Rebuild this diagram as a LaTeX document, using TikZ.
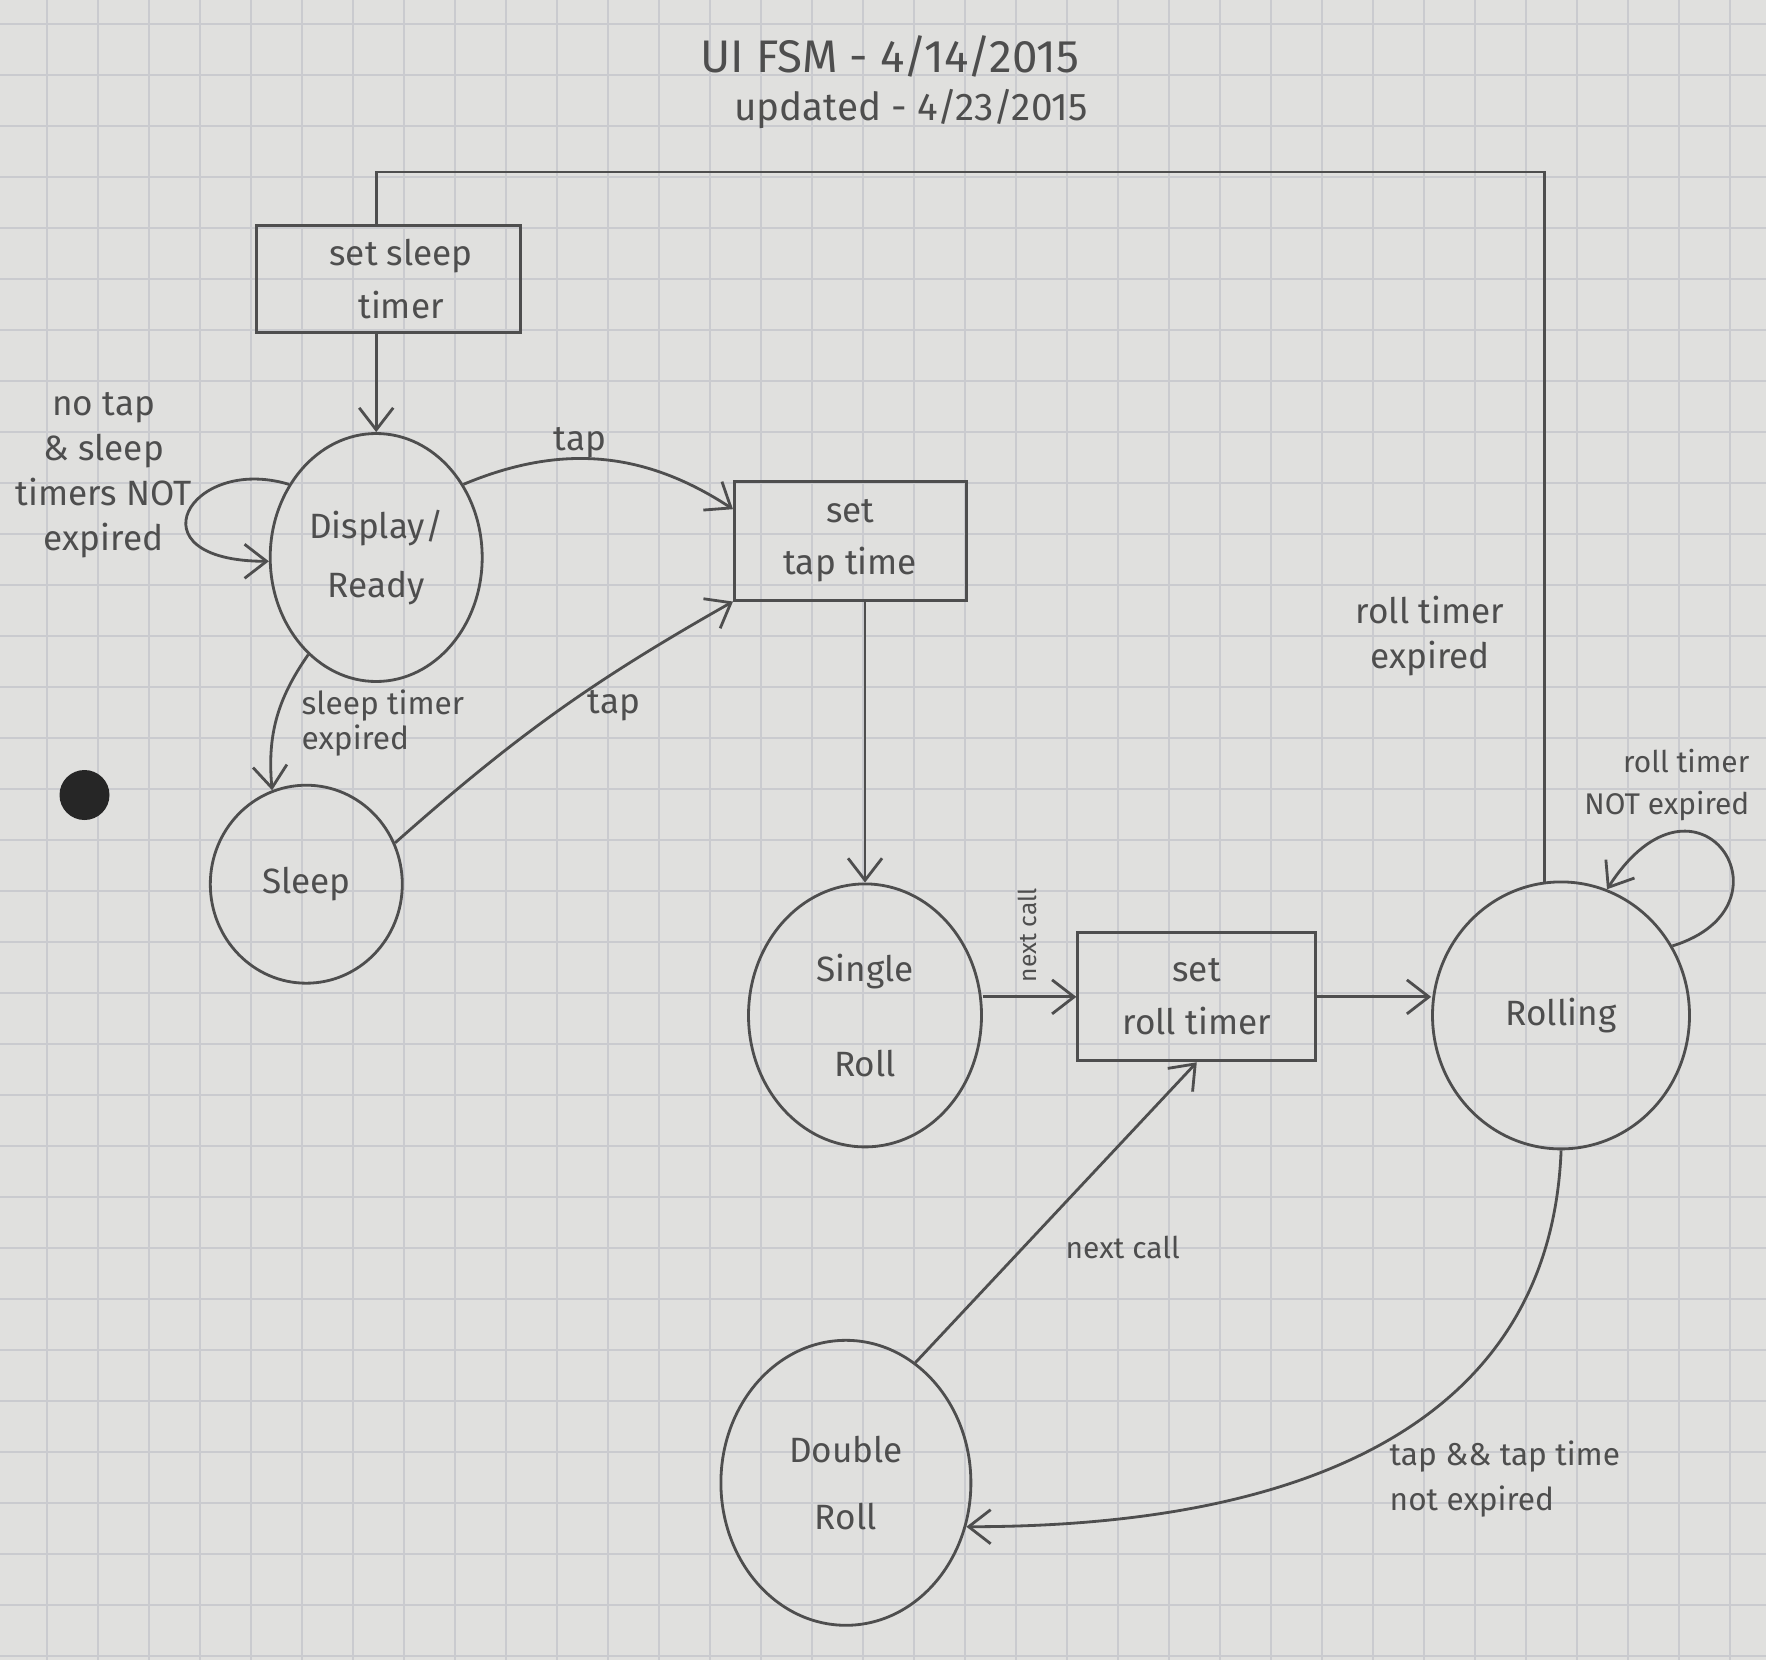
\documentclass[tikz,border=0pt]{standalone}
\usepackage{fontspec}
\setmainfont{Fira Sans}
\usetikzlibrary{shapes.geometric,arrows.meta}
\definecolor{paper}{RGB}{224,224,222}
\definecolor{gridline}{RGB}{202,203,207}
\definecolor{pencil}{RGB}{78,78,78}

\begin{document}
\begin{tikzpicture}[scale=0.1, >={Straight Barb[length=2.2mm,width=3.4mm]}]
\tikzstyle{every node}+=[inner sep=0pt, text=pencil]
\tikzstyle{state}=[draw=pencil, line width=0.8pt, ellipse, align=center, font=\fontsize{10}{17}\selectfont]
\tikzstyle{action}=[draw=pencil, line width=0.8pt, rectangle, align=center, font=\fontsize{10}{15}\selectfont]
\tikzstyle{wire}=[draw=pencil, line width=0.8pt]
\useasboundingbox (0,0) rectangle (176.6,-166);
\fill [paper] (0,0) rectangle (176.6,-166);
\foreach \x in {4.7,9.8,...,176.6} \draw [gridline, line width=0.6pt] (\x,0) -- (\x,-166);
\foreach \y in {-2.4,-7.5,...,-166} \draw [gridline, line width=0.6pt] (0,\y) -- (176.6,\y);
\fill [black!85] (8.45,-79.5) circle (2.5);
\node (title) at (88.98,-5.63) {\fontsize{13}{15}\selectfont UI FSM - 4/14/2015};
\node (updated) at (91.1,-10.9) {\fontsize{11}{13}\selectfont updated - 4/23/2015};
\node [action, minimum width=2.635cm, minimum height=1.07cm] (sleeptimer) at (38.86,-27.88) {\hspace*{2.5mm}set sleep\\\hspace*{2.5mm}timer};
\node [state, minimum width=2.12cm, minimum height=2.48cm] (ready) at (37.62,-55.75) {Display/\\Ready};
\node [action, minimum width=2.32cm, minimum height=1.19cm] (taptime) at (85.03,-54.06) {set\\tap time};
\node [state, minimum width=1.92cm, minimum height=1.98cm] (sleep) at (30.63,-88.42) {Sleep};
\node [state, minimum width=2.33cm, minimum height=2.63cm] (single) at (86.5,-101.54) {Single\\[10pt]Roll};
\node [action, minimum width=2.38cm, minimum height=1.28cm] (rolltimer) at (119.67,-99.68) {set\\roll timer};
\node [state, minimum width=2.57cm, minimum height=2.67cm] (rolling) at (156.1,-101.54) {Rolling};
\node [state, minimum width=2.50cm, minimum height=2.85cm] (double) at (84.59,-148.28) {Double\\[2pt]Roll};
\coordinate (ceiling) at (0,-17.2);
\draw [wire] (rolling.97) |- (ceiling -| ready.north) -- (ready.north |- sleeptimer.north);
\node [font=\fontsize{10}{12.8}\selectfont, align=center] (rollexp) at (143.0,-63.6) {roll timer\\expired};
\draw [wire, ->] (ready.north |- sleeptimer.south) -- (ready.north);
\draw [wire, ->] (ready.140) .. controls +(-10,3) and +(-14,0) .. (ready.182);
\node [font=\fontsize{10}{12.8}\selectfont, align=center] (notap) at (10.36,-47.53) {no tap\\\& sleep\\timers NOT\\expired};
\draw [wire, ->] (ready.40) to [bend left=28] (taptime.165);
\node [font=\fontsize{10}{12}\selectfont] (tapone) at (58.0,-44.3) {tap};
\draw [wire, ->] (ready.235) to [bend right=20] (sleep.110);
\node [font=\fontsize{9}{10}\selectfont, align=left, anchor=north west] (sleepexp) at (30.1,-68.9) {sleep timer\\expired};
\draw [wire, ->] (sleep.25) to [bend left=6] (taptime.south west);
\node [font=\fontsize{10}{12}\selectfont] (taptwo) at (61.4,-70.6) {tap};
\draw [wire, ->] (single.north |- taptime.south) -- (single.north);
\draw [wire, ->] (single.east |- rolltimer.west) -- (rolltimer.west);
\node [font=\fontsize{7}{8}\selectfont, rotate=90] (nextone) at (102.7,-93.5) {next call};
\draw [wire, ->] (rolltimer.east) -- (rolling.west |- rolltimer.east);
\draw [wire, ->] (rolling.32) .. controls +(13,4) and +(9,14) .. (rolling.70);
\node [font=\fontsize{8.5}{12}\selectfont, align=right, anchor=south east] (rollnot) at (175.0,-82.2) {roll timer\\NOT expired};
\draw [wire, ->] (rolling.south) .. controls +(-1,-26) and +(36,0) .. (double.340);
\node [font=\fontsize{9}{12.8}\selectfont, align=left, anchor=north west] (tapnot) at (138.9,-144.0) {tap \&\& tap time\\not expired};
\draw [wire, ->] (double.60) -- (rolltimer.south);
\node [font=\fontsize{8.5}{10}\selectfont, anchor=west] (nexttwo) at (106.5,-124.7) {next call};
\end{tikzpicture}
\end{document}
